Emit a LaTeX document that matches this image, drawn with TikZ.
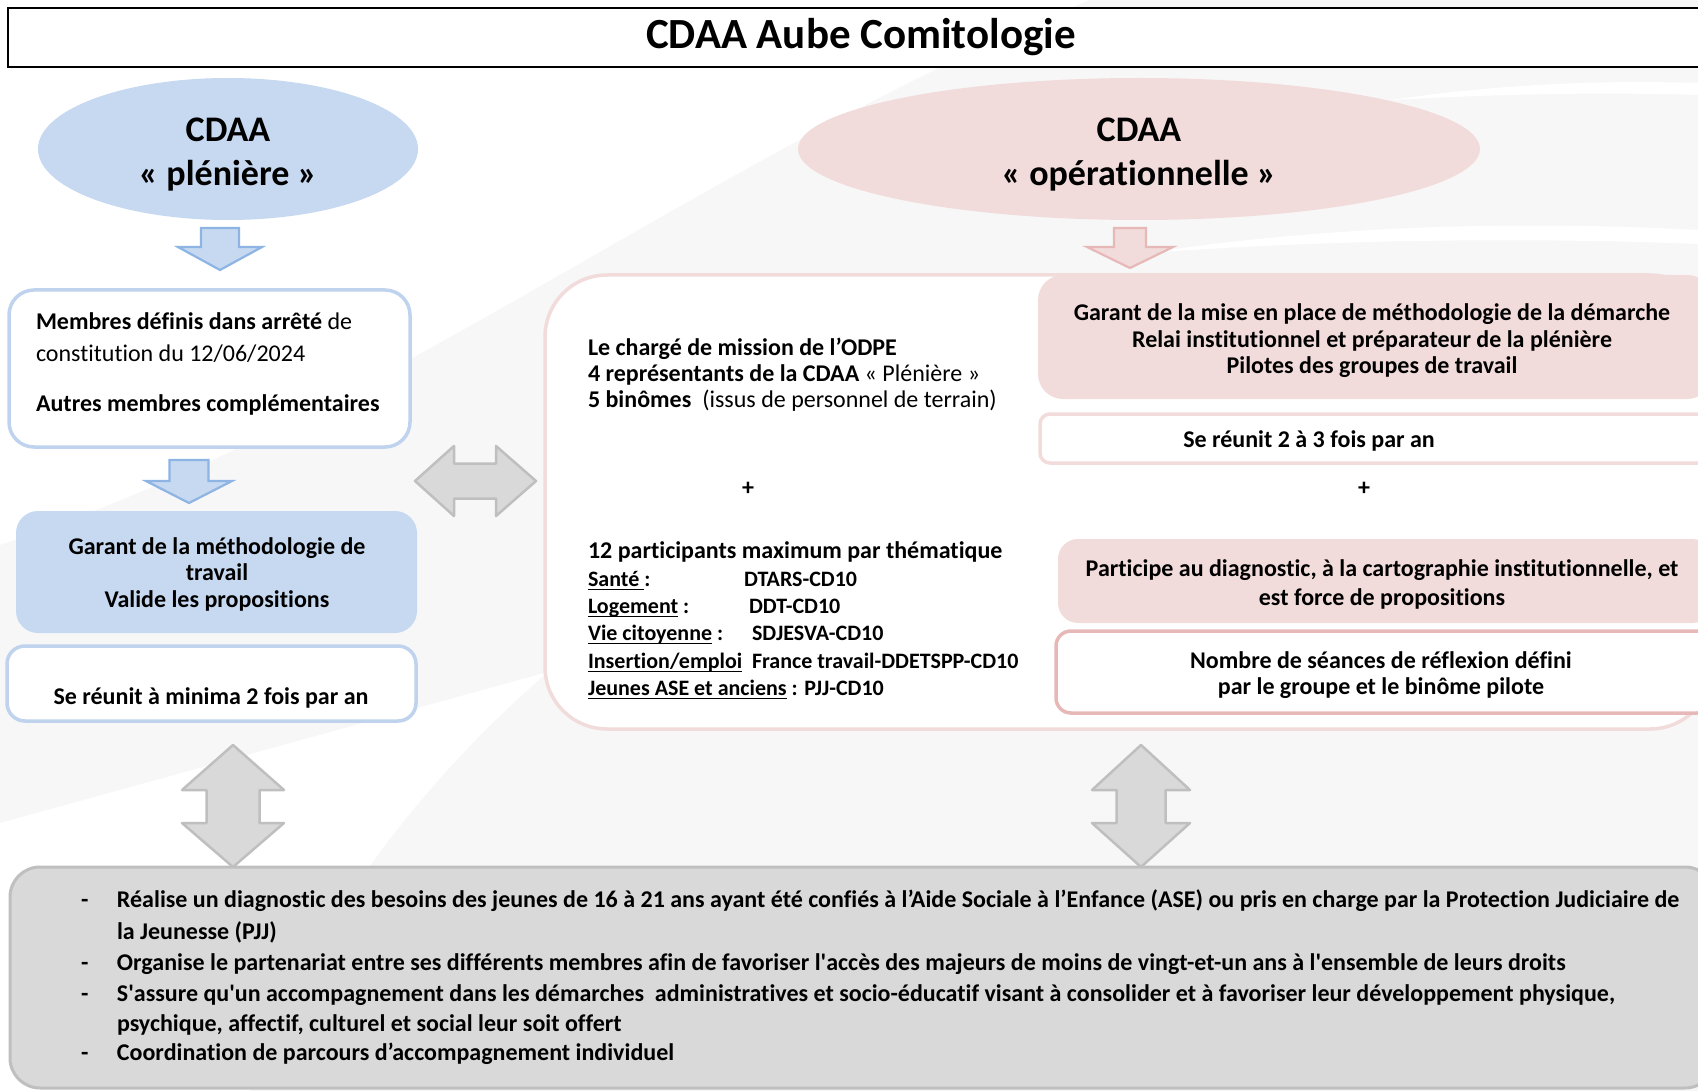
\documentclass[tikz,border=0pt]{standalone}
\usepackage{fontspec}
\setmainfont{Carlito}[Ligatures=NoCommon]
\usetikzlibrary{shapes.geometric}
\definecolor{bluefill}{HTML}{C6D9F1}
\definecolor{blueline}{HTML}{8EB4E3}
\definecolor{blueborder}{HTML}{BFD3EE}
\definecolor{pinkfill}{HTML}{F2DCDB}
\definecolor{pinkline}{HTML}{E6B9B8}
\definecolor{pinkborder}{HTML}{F2DCDB}
\definecolor{grayfill}{HTML}{D9D9D9}
\definecolor{grayline}{HTML}{BFBFBF}
\definecolor{swoosh}{HTML}{F7F7F7}
\newcommand{\fsz}[2]{\fontsize{#1}{#2}\selectfont}
\newcommand{\myul}[1]{\setbox0\hbox{#1}\rlap{\rule[-3.5pt]{\wd0}{1.5pt}}\box0\relax}
\newcommand{\blkdown}[7]{\draw[#1] ({#2-#6},#3) -- ({#2+#6},#3) -- ({#2+#6},#4) -- ({#2+#7},#4) -- (#2,#5) -- ({#2-#7},#4) -- ({#2-#6},#4) -- cycle;}
\newcommand{\blkvv}[8]{\draw[#1] (#2,#3) -- ({#2+#8},#4) -- ({#2+#7},#4) -- ({#2+#7},#5) -- ({#2+#8},#5) -- (#2,#6) -- ({#2-#8},#5) -- ({#2-#7},#5) -- ({#2-#7},#4) -- ({#2-#8},#4) -- cycle;}
\newcommand{\blkhh}[8]{\draw[#1] (#3,#2) -- (#4,{#2-#8}) -- (#4,{#2-#7}) -- (#5,{#2-#7}) -- (#5,{#2-#8}) -- (#6,#2) -- (#5,{#2+#8}) -- (#5,{#2+#7}) -- (#4,{#2+#7}) -- (#4,{#2+#8}) -- cycle;}
\begin{document}
\begin{tikzpicture}[x=1pt,y=-1pt,
  every node/.style={inner sep=0pt, outer sep=0pt},
  ttl/.style={font=\bfseries\fsz{43}{52}},
  ell/.style={ellipse, draw=none},
  elltxt/.style={font=\bfseries\fsz{36}{44}, align=center},
  body/.style={font=\bfseries\fsz{24}{26.5}, align=center},
  lft/.style={font=\fsz{24}{26.5}, anchor=base west},
  sml/.style={font=\bfseries\fsz{22}{27}, anchor=base west},
  bottxt/.style={font=\bfseries\fsz{24}{30}, anchor=base west},
  bluebox/.style={rectangle, rounded corners=#1, fill=bluefill},
  blueobox/.style={rectangle, rounded corners=#1, fill=white, draw=blueborder, line width=3.5pt},
  pinkbox/.style={rectangle, rounded corners=#1, fill=pinkfill},
  pinkobox/.style={rectangle, rounded corners=#1, fill=white, draw=pinkborder, line width=3.5pt},
  pinkdbox/.style={rectangle, rounded corners=#1, fill=white, draw=pinkline, line width=3.5pt},
  bluearrow/.style={fill=bluefill, draw=blueline, line width=2.2pt},
  pinkarrow/.style={fill=pinkfill, draw=pinkline, line width=2.2pt},
  grayarrow/.style={fill=grayfill, draw=grayline, line width=2.5pt, line join=round}]
\useasboundingbox (0,0) rectangle (1698,1091);
\fill[white] (0,0) rectangle (1698,1091);
% background swoosh
\fill[swoosh] (0,545) .. controls (380,420) and (700,160) .. (1090,0) -- (1698,0) -- (1698,1091) -- (0,1091) -- cycle;
\fill[white] (0,823) -- (548,672) .. controls (400,800) and (300,950) .. (250,1091) -- (0,1091) -- cycle;
\fill[white] (1148,253) .. controls (1350,222) and (1550,222) .. (1698,230) -- (1698,244) .. controls (1550,238) and (1350,238) .. (1148,253) -- cycle;
\fill[white] (1391,100) .. controls (1500,84) and (1600,80) .. (1698,83) -- (1698,95) .. controls (1600,92) and (1500,94) .. (1391,100) -- cycle;

% title
\node[draw=black, line width=1.5pt, fill=white, minimum width=1708pt, minimum height=59pt] (title) at (862,37.5) {};
\node[ttl] (titletext) at (861,37) {CDAA Aube Comitologie};

% ellipses
\node[ell, fill=bluefill, minimum width=380pt, minimum height=142pt] (E1) at (228,149) {};
\node[elltxt] (E1t) at (228,155) {CDAA\\« plénière »};
\node[ell, fill=pinkfill, minimum width=682pt, minimum height=142pt] (E2) at (1139,149) {};
\node[elltxt] (E2t) at (1139,155) {CDAA\\« opérationnelle »};

% left column
\blkdown{bluearrow}{220}{228}{247}{270}{19}{42}
\node[blueobox=25pt, minimum width=401pt, minimum height=157pt] (B1) at (209.5,368.5) {};
\node[lft] (B1a) at (36,329.5) {\textbf{Membres définis dans arrêté} de};
\node[lft] (B1b) at (36,361.5) {constitution du 12/06/2024};
\node[lft] (B1c) at (36,411.5) {\textbf{Autres membres complémentaires}};
\blkdown{bluearrow}{189}{460}{481}{503}{19.5}{43}
\node[bluebox=22pt, minimum width=401pt, minimum height=122pt] (B2) at (216.5,572) {};
\node[body] (B2t) at (217,574) {Garant de la méthodologie de\\travail\\Valide les propositions};
\node[blueobox=18pt, minimum width=409pt, minimum height=75pt] (B3) at (211.5,683.5) {};
\node[body] (B3t) at (211,698) {Se réunit à minima 2 fois par an};

% horizontal double arrow
\blkhh{grayarrow}{481}{415}{454}{496}{536}{17.5}{35}

% container
\node[pinkobox=62pt, minimum width=1167pt, minimum height=454pt] (C) at (1128.5,502) {};
\node[lft] (C1) at (588,355.5) {\textbf{Le chargé de mission de l’ODPE}};
\node[lft] (C2) at (588,381.5) {\textbf{4 représentants de la CDAA} « Plénière »};
\node[lft] (C3) at (588,407.5) {\textbf{5 binômes}\hspace{11pt}(issus de personnel de terrain)};
\node[body] (plus1) at (748,489) {+};
\node[lft] (C4) at (588,558.5) {\textbf{12 participants maximum par thématique}};
\node[sml] (S1) at (588,586.6) {\myul{Santé\ }:};
\node[sml] (S1v) at (744,586.6) {DTARS-CD10};
\node[sml] (S2) at (588,613.6) {\myul{Logement}\ :};
\node[sml] (S2v) at (749,613.6) {DDT-CD10};
\node[sml] (S3) at (588,640.6) {\myul{Vie citoyenne}\ :};
\node[sml] (S3v) at (752,640.6) {SDJESVA-CD10};
\node[sml] (S4) at (588,668.6) {\myul{Insertion/emploi}};
\node[sml] (S4v) at (752,668.6) {France travail-DDETSPP-CD10};
\node[sml] (S5) at (588,695.6) {\myul{Jeunes ASE et anciens}\ : PJJ-CD10};

% right column
\blkdown{pinkarrow}{1130}{228}{247}{268}{16}{43}
\node[pinkbox=25pt, minimum width=674pt, minimum height=124pt] (PA) at (1375,337) {};
\node[body] (PAt) at (1372,341) {Garant de la mise en place de méthodologie de la démarche\\Relai institutionnel et préparateur de la plénière\\Pilotes des groupes de travail};
\node[pinkobox=10pt, minimum width=672pt, minimum height=49pt] (PB) at (1376,438.5) {};
\node[body] (PBt) at (1309,441) {Se réunit 2 à 3 fois par an};
\node[body] (plus2) at (1364,489) {+};
\node[pinkbox=20pt, minimum width=654pt, minimum height=84pt] (PC) at (1385,581) {};
\node[body, font=\bfseries\fsz{24}{29}] (PCt) at (1382,584) {Participe au diagnostic, à la cartographie institutionnelle, et\\est force de propositions};
\node[pinkdbox=15pt, minimum width=656pt, minimum height=82pt] (PD) at (1384,672) {};
\node[body] (PDt) at (1381,675) {Nombre de séances de réflexion défini\\par le groupe et le binôme pilote};

% vertical double arrows
\blkvv{grayarrow}{233}{745}{790}{823}{867}{26.5}{51}
\blkvv{grayarrow}{1141}{745}{790}{823}{867}{24.5}{49}

% bottom box
\node[rectangle, rounded corners=30pt, fill=grayfill, draw=grayline, line width=3pt, minimum width=1705pt, minimum height=221pt] (BOT) at (862.5,977.5) {};
\node[bottxt] (L1) at (81,907.5) {\makebox[36pt][l]{-}Réalise un diagnostic des besoins des jeunes de 16 à 21 ans ayant été confiés à l’Aide Sociale à l’Enfance (ASE) ou pris en charge par la Protection Judiciaire de};
\node[bottxt] (L2) at (117,939) {la Jeunesse (PJJ)};
\node[bottxt] (L3) at (81,970) {\makebox[36pt][l]{-}Organise le partenariat entre ses différents membres afin de favoriser l\textquotesingle accès des majeurs de moins de vingt-et-un ans à l\textquotesingle ensemble de leurs droits};
\node[bottxt] (L4) at (81,1001) {\makebox[36pt][l]{-}S\textquotesingle assure qu\textquotesingle un accompagnement dans les démarches\ \ administratives et socio-éducatif visant à consolider et à favoriser leur développement physique,};
\node[bottxt] (L5) at (117,1031) {psychique, affectif, culturel et social leur soit offert};
\node[bottxt] (L6) at (81,1060.5) {\makebox[36pt][l]{-}Coordination de parcours d’accompagnement individuel};
\end{tikzpicture}
\end{document}
